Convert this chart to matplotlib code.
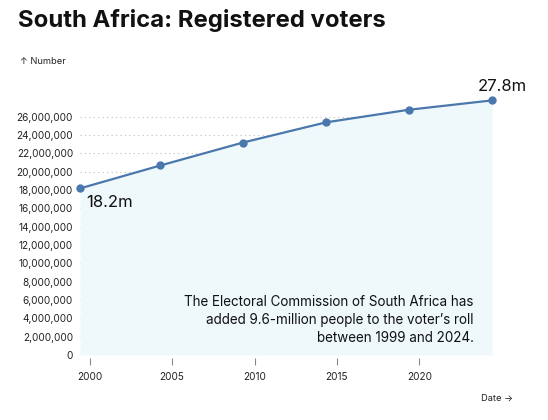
import matplotlib

matplotlib.use("Agg")
import matplotlib.pyplot as plt
import pandas as pd
from matplotlib.ticker import FuncFormatter

plt.rcParams["font.family"] = ["Inter", "DejaVu Sans"]

# 選挙日と登録有権者数
DATES = ["1999-06-02", "2004-04-14", "2009-04-22", "2014-05-07", "2019-05-08", "2024-05-29"]
VOTERS = [18_172_751, 20_674_926, 23_181_997, 25_388_082, 26_756_649, 27_782_081]
X_TICKS = [2000, 2005, 2010, 2015, 2020]
Y_TICKS = list(range(0, 26_000_001, 2_000_000))

LINE = "#4a78ad"
FILL = "#eff9fc"


def to_year(s):
    d = pd.Timestamp(s)
    return d.year + (d.dayofyear - 1) / (366 if d.is_leap_year else 365)


xs = [to_year(d) for d in DATES]

fig = plt.figure(figsize=(5.48, 4.2), dpi=100)
ax = fig.add_axes([0.146, 0.155, 0.752, 0.606])

ax.fill_between(xs, VOTERS, 0, color=FILL, lw=0, zorder=1)
ax.plot(xs, VOTERS, color=LINE, lw=1.6, marker="o", ms=5, zorder=3, clip_on=False)

ax.set_xlim(xs[0], xs[-1])
ax.set_ylim(0, VOTERS[-1])

ax.set_yticks(Y_TICKS)
ax.yaxis.set_major_formatter(FuncFormatter(lambda v, _: f"{int(v):,}"))
ax.set_xticks(X_TICKS)
ax.tick_params(axis="y", length=0, pad=5, labelsize=7.2, labelcolor="#222")
ax.tick_params(axis="x", length=5, width=0.8, color="#888", pad=5,
               labelsize=7.2, labelcolor="#222")
for t in Y_TICKS:
    ax.axhline(t, color="#bdbdbd", lw=0.8, ls=(0, (1, 3)), zorder=0.5)
for s in ["top", "right", "left"]:
    ax.spines[s].set_visible(False)
ax.spines["bottom"].set_visible(False)
ax.spines["bottom"].set_position(("outward", 2))

ax.annotate(f"{VOTERS[0] / 1e6:.1f}m", (xs[0], VOTERS[0]), xytext=(4.5, -4.5),
            textcoords="offset points", ha="left", va="top", fontsize=12, color="#111")
ax.annotate(f"{VOTERS[-1] / 1e6:.1f}m", (xs[-1], VOTERS[-1]), xytext=(7, 10),
            textcoords="offset points", ha="center", va="center", fontsize=12, color="#111")

ax.text(0.955, 0.04,
        "The Electoral Commission of South Africa has\n"
        "added 9.6-million people to the voter’s roll\n"
        "between 1999 and 2024.",
        transform=ax.transAxes, ha="right", va="bottom", fontsize=9.7,
        color="#111", linespacing=1.36)

fig.text(18 / 548, 1 - 21 / 420, "South Africa: Registered voters", ha="left", va="center",
         fontsize=17.2, fontweight="bold", color="#111")
fig.text(20 / 548, 1 - 61 / 420, "↑ Number", ha="left", va="center", fontsize=6.7, color="#222")
fig.text(513 / 548, 1 - 398 / 420, "Date →", ha="right", va="center", fontsize=6.7, color="#222")

fig.savefig("out.png", dpi=100, facecolor="white")
